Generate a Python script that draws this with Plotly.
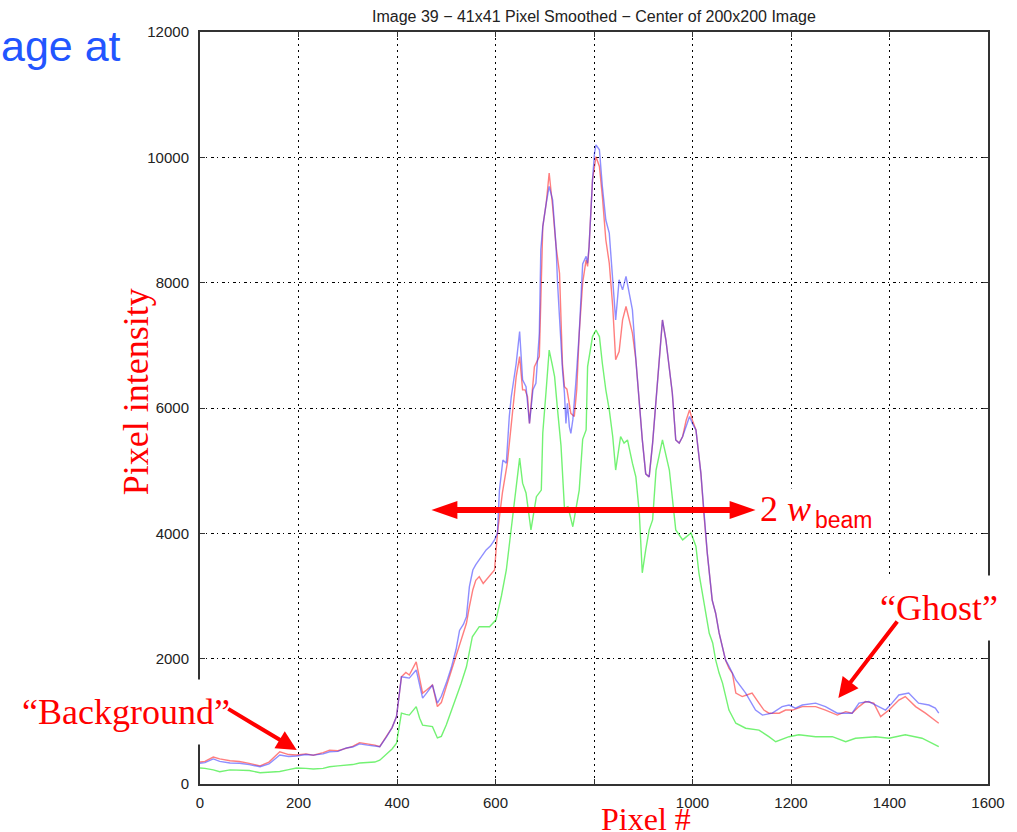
import plotly.graph_objects as go

# ---------------- data ----------------
red_x = [0, 10, 27, 40, 61, 80, 100, 122, 140, 162, 180, 196, 215, 230, 250, 263, 280, 297, 310, 324,
         340, 355, 365, 379, 390, 399, 409, 418, 425, 439, 446, 452, 460, 472, 482, 490, 500, 510, 520, 530,
         541, 547, 554, 560, 567, 575, 581, 590, 598, 604, 614, 624, 634, 642, 649, 655, 660, 665, 669, 675,
         679, 689, 692, 696, 703, 709, 716, 723, 730, 733, 736, 740, 745, 753, 760, 765, 770, 777, 784, 787,
         790, 797, 801, 804, 811, 817, 824, 831, 838, 844, 851, 858, 865, 871, 878, 885, 892, 898, 905, 912,
         919, 926, 932, 939, 946, 953, 959, 966, 973, 980, 987, 994, 1000, 1007, 1017, 1023, 1030, 1040, 1047, 1054,
         1061, 1067, 1074, 1081, 1088, 1101, 1110, 1121, 1135, 1145, 1155, 1176, 1189, 1203, 1223, 1250, 1270, 1294, 1311, 1324,
         1338, 1351, 1368, 1382, 1399, 1419, 1432, 1453, 1473, 1500]
red_y = [350, 360, 430, 400, 370, 360, 330, 290, 350, 515, 470, 463, 480, 460, 500, 540, 530, 575, 600, 660,
         640, 620, 595, 755, 900, 1075, 1710, 1780, 1740, 1950, 1700, 1450, 1500, 1580, 1235, 1300, 1550, 1800, 2030, 2300,
         2565, 2830, 3100, 3250, 3310, 3200, 3255, 3350, 3415, 4005, 4645, 5120, 5920, 6500, 6820, 6290, 6290, 6180, 5755, 6300,
         6660, 6820, 7565, 8895, 9270, 9750, 9215, 8575, 8150, 7405, 6700, 6340, 6300, 5915, 5865, 6300, 7195, 8000, 8365, 8260,
         8575, 9640, 9900, 10010, 9855, 9375, 8685, 8310, 7620, 6770, 6900, 7405, 7620, 7405, 7195, 6770, 6020, 5500, 4950, 4900,
         5440, 6130, 6720, 7405, 7085, 6600, 6240, 5490, 5440, 5545, 5800, 5970, 5800, 5650, 4960, 4325, 3685, 2935, 2725, 2410,
         2190, 1980, 1850, 1765, 1450, 1395, 1420, 1450, 1290, 1180, 1130, 1130, 1180, 1180, 1235, 1235, 1180, 1100, 1155, 1130,
         1235, 1315, 1290, 1075, 1180, 1340, 1395, 1235, 1130, 970]

blue_x = [0, 10, 27, 40, 61, 80, 100, 122, 140, 162, 180, 196, 215, 230, 250, 263, 280, 297, 310, 324,
          340, 355, 365, 379, 390, 399, 409, 418, 425, 439, 446, 452, 460, 472, 482, 490, 500, 510, 520, 527,
          535, 541, 547, 554, 560, 567, 581, 590, 598, 604, 608, 615, 622, 628, 632, 642, 649, 655, 662, 669,
          676, 682, 689, 692, 696, 703, 709, 716, 723, 726, 730, 733, 736, 740, 743, 746, 750, 753, 757, 763,
          770, 777, 784, 787, 790, 797, 801, 804, 811, 817, 824, 831, 838, 844, 851, 858, 865, 871, 878, 885,
          892, 898, 905, 912, 919, 926, 932, 939, 946, 953, 959, 966, 973, 980, 987, 994, 1000, 1007, 1017, 1023,
          1030, 1040, 1047, 1054, 1061, 1067, 1074, 1081, 1088, 1108, 1128, 1142, 1162, 1182, 1196, 1209, 1223, 1250, 1270, 1294,
          1324, 1338, 1358, 1378, 1392, 1405, 1419, 1439, 1459, 1480, 1493, 1500]
blue_y = [330, 340, 400, 360, 335, 330, 310, 275, 320, 463, 440, 447, 470, 460, 480, 515, 520, 575, 590, 640,
          620, 610, 595, 755, 900, 1075, 1710, 1700, 1690, 1820, 1600, 1370, 1450, 1580, 1290, 1400, 1610, 1850, 2150, 2450,
          2550, 2670, 3150, 3415, 3500, 3575, 3735, 3800, 3895, 4005, 4690, 5170, 5120, 5865, 6180, 6710, 7220, 6450, 6340, 5755,
          6290, 6395, 7195, 8525, 8895, 9270, 9535, 9320, 8575, 7990, 7460, 6925, 6610, 6235, 5755, 6075, 5700, 5595, 5810, 6395,
          7195, 8300, 8420, 8310, 8575, 9640, 10065, 10200, 10120, 9535, 9000, 8790, 8045, 7405, 8045, 7885, 8100, 7830, 7565, 6770,
          6020, 5500, 4950, 4900, 5440, 6130, 6720, 7405, 7085, 6600, 6240, 5490, 5440, 5545, 5700, 5865, 5750, 5650, 4960, 4325,
          3685, 2935, 2725, 2410, 2190, 1980, 1880, 1765, 1660, 1450, 1180, 1100, 1130, 1235, 1260, 1210, 1260, 1290, 1235, 1130,
          1130, 1290, 1315, 1235, 1180, 1290, 1420, 1450, 1290, 1260, 1210, 1130]

green_x = [0, 10, 27, 40, 61, 80, 100, 122, 140, 162, 180, 196, 215, 230, 250, 263, 280, 297, 310, 324,
           340, 355, 365, 379, 390, 399, 409, 418, 425, 439, 446, 452, 472, 482, 490, 500, 510, 520, 530, 541,
           553, 567, 588, 601, 612, 622, 635, 642, 649, 655, 662, 672, 683, 693, 696, 703, 709, 715, 720, 726,
           733, 740, 747, 757, 770, 777, 784, 787, 797, 804, 811, 817, 824, 831, 838, 844, 854, 861, 868, 878,
           885, 892, 898, 905, 912, 919, 926, 939, 953, 966, 980, 997, 1007, 1013, 1020, 1027, 1034, 1041, 1047, 1054,
           1061, 1074, 1088, 1108, 1135, 1155, 1169, 1196, 1216, 1250, 1284, 1311, 1331, 1372, 1399, 1432, 1466, 1500]
green_y = [255, 250, 225, 195, 225, 225, 215, 180, 185, 200, 230, 255, 250, 240, 250, 275, 290, 300, 310, 335,
           340, 350, 380, 490, 560, 650, 1130, 1110, 1100, 1235, 1050, 940, 915, 735, 760, 940, 1150, 1390, 1600, 1870,
           2350, 2510, 2510, 2620, 3000, 3415, 4325, 4800, 5200, 4800, 4645, 4055, 4585, 4690, 5600, 6300, 6925, 6700, 6500, 5970,
           5400, 4400, 4425, 4105, 4690, 5500, 5650, 6660, 7140, 7245, 7140, 6710, 6290, 5970, 5545, 5010, 5545, 5440, 5490, 5120,
           4900, 4325, 3370, 3735, 4055, 4215, 5010, 5490, 5010, 4055, 3895, 4005, 3790, 3370, 3045, 2730, 2405, 2250, 1980, 1770,
           1610, 1180, 970, 890, 860, 755, 675, 755, 785, 755, 755, 675, 730, 755, 730, 785, 730, 595]

x_ticks = [0, 200, 400, 600, 800, 1000, 1200, 1400, 1600]
# the "800" label is hidden behind the "Pixel #" caption in the reference
x_ticktext = ["0", "200", "400", "600", "", "1000", "1200", "1400", "1600"]
y_ticks = [0, 2000, 4000, 6000, 8000, 10000, 12000]

# ---------------- layout helpers ----------------
W, H = 1017, 832
L, R, T, B = 200, 27, 32, 48
PW, PH = W - L - R, H - T - B


def pxp(x):
    return (x - L) / PW


def pyp(y):
    return (H - B - y) / PH


RED = "#FF0000"
SERIF = "Liberation Serif, Times New Roman, serif"
SANS = "Liberation Sans, Arial, sans-serif"

fig = go.Figure()
fig.add_trace(go.Scatter(x=green_x, y=green_y, mode="lines",
                         line=dict(color="rgba(40,235,40,0.65)", width=1.4), showlegend=False))
fig.add_trace(go.Scatter(x=red_x, y=red_y, mode="lines",
                         line=dict(color="rgba(255,40,40,0.6)", width=1.4), showlegend=False))
fig.add_trace(go.Scatter(x=blue_x, y=blue_y, mode="lines",
                         line=dict(color="rgba(50,50,255,0.55)", width=1.4), showlegend=False))

axis_common = dict(
    showgrid=True, gridcolor="#000", gridwidth=1,
    showline=True, linecolor="#333", linewidth=2, mirror="ticks",
    ticks="inside", ticklen=5, tickcolor="#333", tickwidth=1,
    tickfont=dict(family=SANS, size=15, color="#222"),
    zeroline=False,
)

fig.update_xaxes(range=[0, 1600], tickvals=x_ticks, ticktext=x_ticktext,
                 griddash="2px,4px", ticklabelstandoff=4, **axis_common)
fig.update_yaxes(range=[0, 12000], tickvals=y_ticks, tickformat="d",
                 griddash="3px,3px,1px,4px", ticklabelstandoff=6, **axis_common)

annotations = [
    # cut-off slide text
    dict(text="age at", x=pxp(-2), y=pyp(46), xanchor="left", yanchor="middle",
         font=dict(family=SANS, size=43, color="#2255FF")),
    # title
    dict(text="Image 39 \u2212 41x41 Pixel Smoothed \u2212 Center of 200x200 Image",
         x=0.5, y=pyp(16), xanchor="center", yanchor="middle",
         font=dict(family=SANS, size=16, color="#222")),
    # axis labels
    dict(text="Pixel intensity", x=pxp(136), y=pyp(392), textangle=-90,
         xanchor="center", yanchor="middle", font=dict(family=SERIF, size=36, color=RED)),
    dict(text="Pixel #", x=pxp(647), y=pyp(819), xanchor="center", yanchor="middle",
         font=dict(family=SERIF, size=32, color=RED)),
    # labels with white boxes
    dict(text="\u201cBackground\u201d", x=pxp(126), y=pyp(712), xanchor="center", yanchor="middle",
         bgcolor="white", borderpad=12, font=dict(family=SERIF, size=36, color=RED)),
    dict(text="\u201cGhost\u201d", x=pxp(941), y=pyp(608), xanchor="center", yanchor="middle",
         bgcolor="white", borderpad=12, font=dict(family=SERIF, size=36, color=RED)),
    dict(text="2 <i>w</i>", x=pxp(760), y=pyp(509), xanchor="left", yanchor="middle",
         bgcolor="white", borderpad=0, font=dict(family=SERIF, size=36, color=RED)),
    dict(text="beam", x=pxp(815), y=pyp(520), xanchor="left", yanchor="middle",
         font=dict(family=SANS, size=23, color=RED)),
    # pointing arrows
    dict(text="", x=pxp(297), y=pyp(750), ax=-70, ay=-42, showarrow=True,
         arrowhead=2, arrowsize=1, arrowwidth=4, arrowcolor=RED),
    dict(text="", x=pxp(840), y=pyp(698), ax=60, ay=-78, showarrow=True,
         arrowhead=2, arrowsize=1, arrowwidth=4, arrowcolor=RED),
]
for a in annotations:
    a.setdefault("xref", "paper")
    a.setdefault("yref", "paper")
    a.setdefault("showarrow", False)

# double-headed arrow for 2 w_beam
ay0 = 510
shapes = [
    dict(type="line", xref="paper", yref="paper", x0=pxp(452), x1=pxp(737), y0=pyp(ay0), y1=pyp(ay0),
         line=dict(color=RED, width=6)),
    dict(type="path", xref="paper", yref="paper",
         path=f"M {pxp(432)},{pyp(ay0)} L {pxp(458)},{pyp(ay0 - 9)} L {pxp(458)},{pyp(ay0 + 9)} Z",
         fillcolor=RED, line=dict(width=0)),
    dict(type="path", xref="paper", yref="paper",
         path=f"M {pxp(757)},{pyp(ay0)} L {pxp(731)},{pyp(ay0 - 9)} L {pxp(731)},{pyp(ay0 + 9)} Z",
         fillcolor=RED, line=dict(width=0)),
]

fig.update_layout(
    width=W, height=H,
    margin=dict(l=L, r=R, t=T, b=B, pad=0),
    paper_bgcolor="white", plot_bgcolor="white",
    showlegend=False,
    annotations=annotations,
    shapes=shapes,
)

fig.write_html("out.html")
